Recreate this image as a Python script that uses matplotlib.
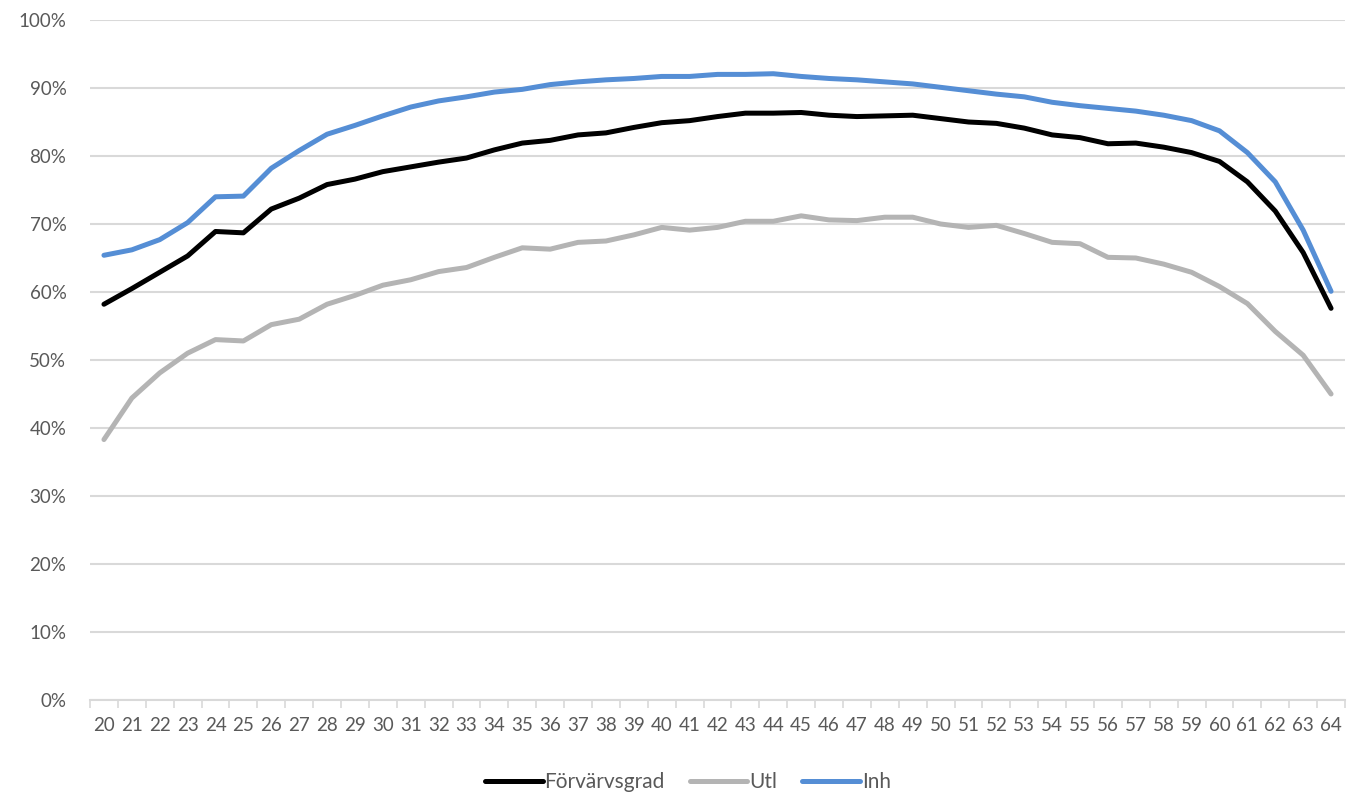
import matplotlib
matplotlib.use("Agg")
import matplotlib.pyplot as plt
import numpy as np

ages = list(range(20, 65))

forvarvsgrad = [58.2, 60.5, 62.9, 65.3, 68.9, 68.7, 72.2, 73.8, 75.8, 76.6,
                77.7, 78.4, 79.1, 79.7, 80.9, 81.9, 82.3, 83.1, 83.4, 84.2,
                84.9, 85.2, 85.8, 86.3, 86.3, 86.4, 86.0, 85.8, 85.9, 86.0,
                85.5, 85.0, 84.8, 84.1, 83.1, 82.7, 81.8, 81.9, 81.3, 80.5,
                79.2, 76.2, 71.9, 65.8, 57.6]
utl = [38.3, 44.4, 48.1, 51.0, 53.0, 52.8, 55.2, 56.0, 58.2, 59.5,
       61.0, 61.8, 63.0, 63.6, 65.1, 66.5, 66.3, 67.3, 67.5, 68.4,
       69.5, 69.1, 69.5, 70.4, 70.4, 71.2, 70.6, 70.5, 71.0, 71.0,
       70.0, 69.5, 69.8, 68.6, 67.3, 67.1, 65.1, 65.0, 64.1, 62.9,
       60.8, 58.3, 54.2, 50.7, 45.0]
inh = [65.4, 66.2, 67.7, 70.2, 74.0, 74.1, 78.2, 80.8, 83.2, 84.5,
       85.9, 87.2, 88.1, 88.7, 89.4, 89.8, 90.5, 90.9, 91.2, 91.4,
       91.7, 91.7, 92.0, 92.0, 92.1, 91.7, 91.4, 91.2, 90.9, 90.6,
       90.1, 89.6, 89.1, 88.7, 87.9, 87.4, 87.0, 86.6, 86.0, 85.2,
       83.7, 80.5, 76.2, 69.1, 60.1]

series = [("Förvärvsgrad", forvarvsgrad, "#000000"),
          ("Utl", utl, "#B4B4B4"),
          ("Inh", inh, "#558ED5")]

plt.rcParams['font.family'] = ['Lato', 'DejaVu Sans']
text_color = "#595959"
grid_color = "#D9D9D9"

fig = plt.figure(figsize=(13.48, 7.98), dpi=100)
ax = fig.add_axes([90/1348, 1 - 700/798, (1345-90)/1348, (700-20)/798])

x = np.arange(len(ages))
for name, vals, col in series:
    ax.plot(x, vals, color=col, lw=3.6, label=name, solid_capstyle='round',
            solid_joinstyle='round', zorder=3)

ax.set_xlim(-0.5, len(ages) - 0.5)
ax.set_ylim(0, 100)
ax.set_yticks(np.arange(0, 101, 10))
ax.set_yticklabels([f"{v}%" for v in range(0, 101, 10)])
ax.yaxis.grid(True, color=grid_color, lw=1.5, zorder=0)
ax.set_xticks(x)
ax.set_xticklabels([str(a) for a in ages])
ax.set_xticks(np.arange(-0.5, len(ages), 1), minor=True)
ax.tick_params(axis='x', which='major', length=0, pad=12, labelsize=13.5, labelcolor=text_color)
ax.tick_params(axis='x', which='minor', length=6, width=1.2, color=grid_color)
ax.tick_params(axis='y', length=0, pad=17, labelsize=13.5, labelcolor=text_color)
for s in ['top', 'right', 'left']:
    ax.spines[s].set_visible(False)
ax.spines['bottom'].set_color(grid_color)
ax.spines['bottom'].set_linewidth(1.5)

leg = fig.legend(loc='center', bbox_to_anchor=(688/1348, 1 - 782/798), ncol=3,
                 frameon=False, fontsize=15, handlelength=2.75, handletextpad=0.1,
                 columnspacing=1.2)
for t in leg.get_texts():
    t.set_color(text_color)

fig.savefig("out.png", dpi=100)
